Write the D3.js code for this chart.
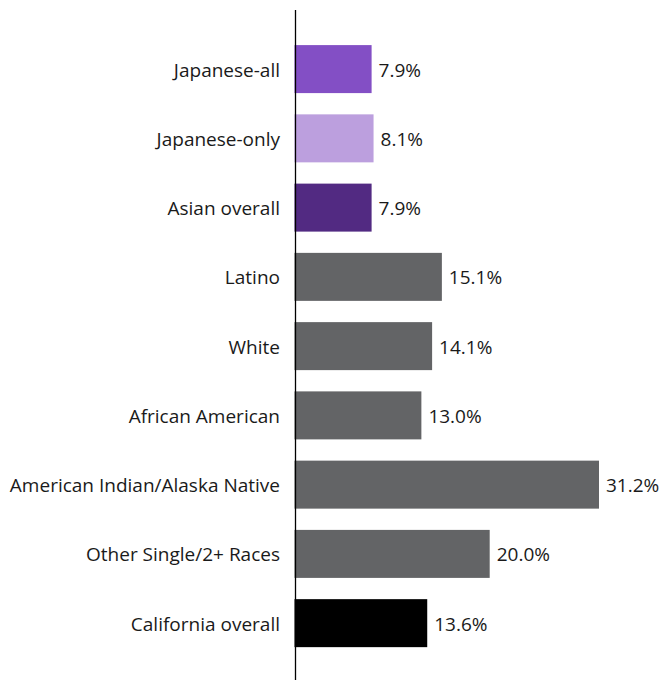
<!DOCTYPE html>
<html>
<head>
<meta charset="utf-8">
<script src="https://cdn.jsdelivr.net/npm/d3@7"></script>
<style>
  body { margin: 0; background: #fff; }
  text { font-family: "Open Sans", "Noto Sans", sans-serif; fill: #1a1a1a; }
</style>
</head>
<body>
<svg id="vis" width="663" height="680"></svg>
<script>
// data
const categories = [
  "Japanese-all",
  "Japanese-only",
  "Asian overall",
  "Latino",
  "White",
  "African American",
  "American Indian/Alaska Native",
  "Other Single/2+ Races",
  "California overall"
];
const values = [7.9, 8.1, 7.9, 15.1, 14.1, 13.0, 31.2, 20.0, 13.6];
const barColors = ["#834fc5", "#bc9fde", "#522a82", "#636466", "#636466",
  "#636466", "#636466", "#636466", "#000000"];

const svg = d3.select("svg#vis");

const x = d3.scaleLinear().domain([0, 31.2]).range([294.5, 599]);

const y = d3.scaleBand()
  .domain(categories)
  .range([34.5, 657.75])
  .paddingInner(0.307)
  .paddingOuter(0.153);

const rows = categories.map((c, i) => ({ name: c, value: values[i], color: barColors[i] }));

// bars
svg.selectAll("rect.bar")
  .data(rows)
  .enter()
  .append("rect")
  .attr("class", "bar")
  .attr("x", x(0))
  .attr("y", d => y(d.name))
  .attr("width", d => x(d.value) - x(0))
  .attr("height", y.bandwidth())
  .attr("fill", d => d.color);

// value labels
svg.selectAll("text.value")
  .data(rows)
  .enter()
  .append("text")
  .attr("class", "value")
  .attr("x", d => x(d.value) + 7)
  .attr("y", d => y(d.name) + y.bandwidth() / 2)
  .attr("dy", "0.4em")
  .style("font-size", "19px")
  .text(d => d.value.toFixed(1) + "%");

// category labels
svg.selectAll("text.cat")
  .data(rows)
  .enter()
  .append("text")
  .attr("class", "cat")
  .attr("x", 280)
  .attr("y", d => y(d.name) + y.bandwidth() / 2)
  .attr("dy", "0.4em")
  .attr("text-anchor", "end")
  .style("font-size", "19px")
  .text(d => d.name);

// vertical axis line
svg.append("line")
  .attr("x1", 295.5).attr("x2", 295.5)
  .attr("y1", 10).attr("y2", 680)
  .attr("stroke", "#000")
  .attr("stroke-width", 1.3);
</script>
</body>
</html>
